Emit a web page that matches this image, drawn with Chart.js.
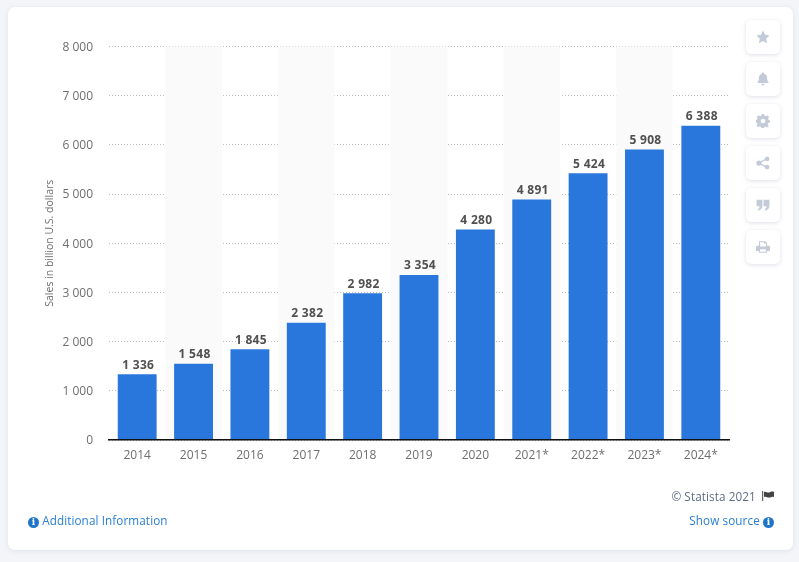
<!DOCTYPE html>
<html>
<head>
<meta charset="utf-8">
<title>Sales in billion U.S. dollars</title>
<script src="https://cdn.jsdelivr.net/npm/chart.js@4"></script>
<style>
  html, body { margin: 0; padding: 0; width: 799px; height: 562px; overflow: hidden; background: #f3f5f9; font-family: "Open Sans", sans-serif; }
  .card { position: absolute; left: 8px; top: 7px; width: 785px; height: 543px; background: #fff; border-radius: 7px; box-shadow: 0 1px 5px rgba(160,170,190,.25); }
  canvas { position: absolute; left: 0; top: 0; }
  .btn { position: absolute; left: 746px; width: 34px; height: 34px; background: #fff; border-radius: 5px; box-shadow: 0 1px 4px rgba(160,170,190,.35); display: flex; align-items: center; justify-content: center; }
  .btn svg { width: 14px; height: 14px; fill: #c3cbd9; }
  .txt { position: absolute; font-size: 11.7px; line-height: 16px; white-space: nowrap; letter-spacing: .1px; }
  .link { color: #2a7ed2; }
  .info { display: inline-block; width: 11px; height: 11px; border-radius: 50%; background: #1f76c9; color: #fff; font: bold 9px/11px "DejaVu Serif", serif; text-align: center; vertical-align: 0; }
</style>
</head>
<body>
<div class="card"></div>
<canvas id="grafico" width="799" height="562"></canvas>

<div class="btn" style="top:20px"><svg viewBox="0 0 24 24"><path d="M12 1l3.4 7.3 7.9 1-5.8 5.4 1.5 7.9-7-3.9-7 3.9 1.5-7.9L.7 9.3l7.9-1z"/></svg></div>
<div class="btn" style="top:62px"><svg viewBox="0 0 24 24"><path d="M12 1a2 2 0 0 1 2 2c4 1 5 4 5 8 0 4 2 6 3 8H2c1-2 3-4 3-8 0-4 1-7 5-8a2 2 0 0 1 2-2zM9 20h6a3 3 0 0 1-6 0z"/></svg></div>
<div class="btn" style="top:104px"><svg viewBox="0 0 24 24"><path fill-rule="evenodd" d="M10 1h4l.6 3 2.4 1 2.6-1.700 2.800 2.800L20.700 8.700l1 2.400 2.300.6v4l-3 .6-1 2.400 1.700 2.600-2.800 2.800-2.600-1.700-2.400 1-.6 2.500h-4l-.6-3-2.400-1-2.600 1.700-2.800-2.800 1.700-2.600-1-2.400-3-.6v-4l3-.6 1-2.400L1.400 6.100l2.800-2.800L6.800 5l2.400-1zM12 9a4 4 0 1 0 0 8 4 4 0 0 0 0-8z" transform="translate(0 -1)"/></svg></div>
<div class="btn" style="top:146px"><svg viewBox="0 0 24 24"><circle cx="5" cy="12" r="4.500"/><circle cx="19" cy="5" r="4"/><circle cx="19" cy="19" r="4"/><path d="M5 10.500L18 4l1 2-13 6.500zM6 11.500l13 6.500-1 2-13-6.500z"/></svg></div>
<div class="btn" style="top:188px"><svg viewBox="0 0 24 24"><path d="M1 3h10v10c0 5-3 8-7 9l-1-3c2-1 3-2 3-5H1zM13 3h10v10c0 5-3 8-7 9l-1-3c2-1 3-2 3-5h-5z"/></svg></div>
<div class="btn" style="top:230px"><svg viewBox="0 0 24 24"><path fill-rule="evenodd" d="M5 2h11l3 3v5h3a2 2 0 0 1 2 2v7h-5v3H5v-3H0v-7a2 2 0 0 1 2-2h3zM7 4v7h10V6h-3V4zM7 16v4h10v-4z"/></svg></div>

<div class="txt" style="right:25px;top:488px;color:#5f6d84">© Statista 2021 <svg width="12" height="10" viewBox="0 0 12 10" style="margin-left:3px"><rect x="0" y="0" width="1.200" height="10" fill="#666"/><path d="M2 1c2-1 3 1 5 .5S10 0 12 1v5c-2-1-3 .5-5 .5S4 5 2 6z" fill="#444"/></svg></div>
<div class="txt link" style="left:28px;top:512px"><span class="info">i</span> Additional Information</div>
<div class="txt link" style="right:25px;top:512px">Show source <span class="info">i</span></div>

<script>
// Datos
const categorias = ['2014', '2015', '2016', '2017', '2018', '2019', '2020', '2021*', '2022*', '2023*', '2024*'];
const ventas = [1336, 1548, 1845, 2382, 2982, 3354, 4280, 4891, 5424, 5908, 6388];
const tituloEje = 'Sales in billion U.S. dollars';
const maximoEje = 8000;
const pasoEje = 1000;

// Separador de miles con espacio
function formatear(valor) {
    return String(valor).replace(/\B(?=(\d{3})+$)/g, ' ');
}

// Bandas grises alternas detras de las barras
const bandas = {
    id: 'bandas',
    beforeDatasetsDraw(chart) {
        const { ctx, chartArea, scales } = chart;
        const paso = scales.x.getPixelForValue(1) - scales.x.getPixelForValue(0);
        ctx.save();
        ctx.fillStyle = '#fafafa';
        categorias.forEach((c, i) => {
            if (i % 2 === 1) {
                ctx.fillRect(scales.x.getPixelForValue(i) - paso / 2, chartArea.top, paso, chartArea.bottom - chartArea.top);
            }
        });
        ctx.restore();
    }
};

// Etiquetas de valor encima de cada barra
const etiquetas = {
    id: 'etiquetas',
    afterDatasetsDraw(chart) {
        const { ctx } = chart;
        ctx.save();
        ctx.font = 'bold 12px "Open Sans", sans-serif';
        ctx.letterSpacing = '0.3px';
        ctx.fillStyle = '#505050';
        ctx.textAlign = 'center';
        ctx.textBaseline = 'bottom';
        chart.getDatasetMeta(0).data.forEach((barra, i) => {
            ctx.fillText(formatear(ventas[i]), barra.x + 1, barra.y - 3);
        });
        ctx.restore();
    }
};

new Chart(document.getElementById('grafico'), {
    type: 'bar',
    data: {
        labels: categorias,
        datasets: [{
            data: ventas,
            backgroundColor: '#2977dd',
            categoryPercentage: 0.69,
            barPercentage: 1
        }]
    },
    options: {
        responsive: false,
        animation: false,
        layout: { padding: { left: 44, top: 46.5, right: 70, bottom: 0 } },
        plugins: { legend: { display: false }, tooltip: { enabled: false } },
        scales: {
            x: {
                afterFit(escala) { escala.height = 122; },
                grid: { display: false, drawTicks: false },
                border: { color: '#111', width: 1.5, z: 2 },
                ticks: { color: '#6e6e6e', font: { family: '"Open Sans", sans-serif', size: 12 }, padding: 8, maxRotation: 0, autoSkip: false }
            },
            y: {
                min: 0,
                max: maximoEje,
                afterFit(escala) { escala.width = 65; },
                grid: { color: '#bdbdbd', drawTicks: false, lineWidth: 1 },
                border: { display: false, dash: [1, 2] },
                ticks: {
                    stepSize: pasoEje,
                    color: '#6e6e6e',
                    padding: 16,
                    labelOffset: 1,
                    font: { family: '"Open Sans", sans-serif', size: 12 },
                    callback: v => formatear(v)
                },
                title: { display: true, text: tituloEje, color: '#6e6e6e', padding: 0, font: { family: '"Open Sans", sans-serif', size: 10.5 } }
            }
        }
    },
    plugins: [bandas, etiquetas]
});
</script>
</body>
</html>
